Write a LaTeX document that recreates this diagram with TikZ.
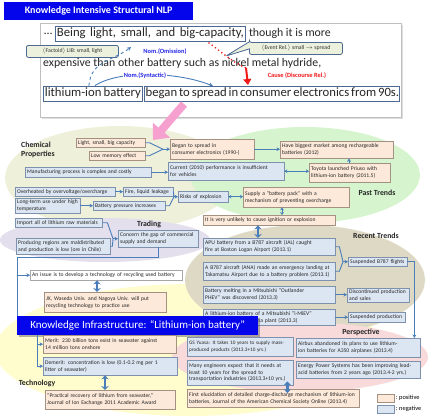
\documentclass[tikz,border=0pt]{standalone}
\usepackage{fontspec}
\setmainfont{Carlito}
\usetikzlibrary{arrows.meta,positioning,calc,shapes.callouts,shadows}
\definecolor{nlpblue}    {RGB}{  5,  5,235}
\definecolor{posfill}    {RGB}{253,233,217}
\definecolor{posline}    {RGB}{165,145,130}
\definecolor{negfill}    {RGB}{220,230,242}
\definecolor{negline}    {RGB}{125,145,172}
\definecolor{connblue}   {RGB}{ 74,126,187}
\definecolor{phrline}    {RGB}{ 75,105,145}
\definecolor{calloutfill}{RGB}{236,241,222}
\definecolor{nomblue}    {RGB}{ 35, 35,230}
\definecolor{causered}   {RGB}{240, 25, 25}
\definecolor{arrowpink}  {RGB}{246,160,208}
\definecolor{blobolive}  {RGB}{238,240,218}
\definecolor{blobgreen}  {RGB}{214,245,206}
\definecolor{bloblav}    {RGB}{228,223,236}
\definecolor{blobtan}    {RGB}{221,217,196}
\definecolor{blobyellow} {RGB}{255,253,206}
\definecolor{blobpink}   {RGB}{248,218,219}
\tikzset{
  bx/.style={draw,anchor=north west,inner xsep=2pt,inner ysep=1pt,
             align=left,font=\fontsize{5.6}{6.7}\selectfont,text=black!85},
  posbox/.style={bx,draw=posline,fill=posfill},
  negbox/.style={bx,draw=negline,fill=negfill},
  whtbox/.style={bx,draw=gray!70,fill=white},
  ttl/.style={font=\fontsize{7.8}{8.8}\selectfont\bfseries,text=black!85,
              align=left,inner sep=0pt},
  banner/.style={fill=nlpblue,text=white,anchor=north west,inner sep=0pt},
  sent/.style={font=\fontsize{11.8}{14}\selectfont,inner sep=0pt,anchor=west,
               text=black!85},
  phrase/.style={draw=phrline,line width=0.8pt,inner xsep=1.5pt,inner ysep=0pt,
                 minimum height=15pt,font=\fontsize{12.7}{14}\selectfont,
                 text=black!85},
  factoid/.style={draw=phrline,line width=0.8pt,fill=calloutfill,
                  rounded corners=2pt,anchor=north west,inner sep=0pt,
                  minimum height=12pt,font=\fontsize{5.8}{6.8}\selectfont,
                  text=black!80},
  nomlbl/.style={font=\fontsize{6.4}{7.4}\selectfont\bfseries,text=nomblue,
                 inner sep=1pt},
  nomarr/.style={draw=connblue,line width=0.9pt,
                 -{Stealth[length=4pt,width=4pt]}},
  lnk/.style={draw=connblue,line width=0.9pt},
  arr/.style={lnk,-{Stealth[length=3.5pt,width=3.8pt]}},
  darr/.style={lnk,{Stealth[length=3pt,width=3.8pt]}-{Stealth[length=3pt,width=3.8pt]}},
  bigdarr/.style={lnk,line width=2.4pt,
                  {Stealth[length=4pt,width=7.5pt]}-{Stealth[length=4pt,width=7.5pt]}},
}
\begin{document}
\begin{tikzpicture}[x=1pt,y=-1pt]
  \useasboundingbox (0,0) rectangle (432,416);

  % background areas
  \fill[blobyellow] (190,350) ellipse [x radius=195pt,y radius=66pt];
  \fill[blobtan]    (305,280) ellipse [x radius=120pt,y radius=55pt];
  \fill[blobpink]   (300,357) ellipse [x radius=128pt,y radius=35pt];
  \fill[blobolive]  (120,178) ellipse [x radius=115pt,y radius=52pt];
  \fill[blobgreen]  (305,175) ellipse [x radius=115pt,y radius=48pt];
  \fill[bloblav]    (105,240) ellipse [x radius=105pt,y radius=22pt];

  % structural NLP
  \node[banner,minimum width=189pt,minimum height=18pt,
        font=\fontsize{10}{12}\selectfont\bfseries] (nlp) at (4,2)
        {Knowledge Intensive Structural NLP};
  \node[draw=gray!50,line width=1.2pt,fill=white,anchor=north west,
        minimum width=361pt,minimum height=94pt,
        drop shadow={shadow xshift=1pt,shadow yshift=-1pt,opacity=0.25}]
        (frame) at (40,23) {};

  \node[sent] (dots) at (44,33.5) {\dots};
  \node[phrase,anchor=west] (being) at (55,33.5)
        {\makebox[187pt][s]{Being light, small, and big-capacity,}};
  \node[sent,right=3pt of being] (more) {though it is more};
  \node[sent] (expens) at (43,63) {expensive than other battery such as nickel metal hydride,};
  \node[phrase,anchor=west] (lib) at (43,93.5) {\makebox[96pt][s]{lithium-ion battery}};
  \node[phrase,right=1pt of lib] (spread)
        {\makebox[252pt][s]{began to spread in consumer electronics from 90s.}};

  \node[factoid,minimum width=92pt] (fact) at (26,45)
        {$\langle$Factoid$\rangle$ LIB: small, light};
  \node[factoid,minimum width=93pt,rectangle callout,
        callout absolute pointer={(226,56)}] (event) at (249,42)
        {$\langle$Event Rel.$\rangle$ small $\rightarrow$ spread};

  \node[nomlbl] (omis) at (165,52) {Nom.(Omission)};
  \coordinate (omisend) at (131,47);
  \draw[nomarr,dashed] ($(lib.north)+(-4,0)$) .. controls +(2,-25) and +(-18,14) .. (omisend);
  \coordinate (synend) at (213,86);
  \draw[nomarr] ($(lib.north)+(2,0)$) .. controls +(25,-16) and +(-35,-14) .. (synend);
  \node[nomlbl,fill=white] (synt) at (145,76) {Nom.(Syntactic)};

  \coordinate (causest) at (209,43);
  \coordinate (causemid) at (246,68);
  \coordinate (causeend) at (248,85);
  \draw[causered,line width=1.8pt,line cap=round,dash pattern=on 0pt off 4pt]
        (causest) .. controls +(14,10) and +(-14,-6) .. (causemid);
  \draw[causered,line width=2pt,-{Triangle[length=6pt,width=8pt]}] (causemid) -- (causeend);
  \node[font=\fontsize{6.4}{7.4}\selectfont\bfseries,text=causered] (cause) at (297,76)
        {Cause (Discourse Rel.)};

  \coordinate (pkst) at (184,104);
  \coordinate (pkend) at (153,140);
  \draw[arrowpink,line width=8pt,-{Triangle[length=13pt,width=22pt]}] (pkst) -- (pkend);

  % chemical properties
  \node[ttl,anchor=west] (chemttl) at (21,150) {Chemical\\Properties};
  \node[posbox,text width=65pt,minimum height=9pt] (light) at (76,138) {Light, small, big capacity};
  \node[posbox,text width=52pt,minimum height=9pt] (lowmem) at (89,151) {Low memory effect};
  \node[negbox,text width=122pt,minimum height=10pt] (manuf) at (25,167) {Manufacturing process is complex and costly};
  \node[negbox,text width=96pt,minimum height=9pt] (overheat) at (15,187) {Overheated by overvoltage/overcharge};
  \node[negbox,text width=46pt,minimum height=9pt] (fire) at (123,187) {Fire, liquid leakage};
  \node[negbox,text width=61pt,minimum height=15pt] (longterm) at (15,198) {Long-term use under high\\temperature};
  \node[negbox,text width=68pt,minimum height=9pt] (pressure) at (93,201) {Battery pressure increases};
  \node[negbox,text width=46pt,minimum height=11pt] (risks) at (178,191) {Risks of explosion};

  % past trends
  \node[posbox,text width=80pt,minimum height=20pt] (began) at (170,139) {Began to spread in\\consumer electronics (1990-)};
  \node[negbox,text width=112pt,minimum height=18pt] (current) at (168,162) {Current (2010) performance is insufficient\\for vehicles};
  \node[posbox,text width=109pt,minimum height=17pt] (biggest) at (280,141) {Have biggest market among rechargeable\\batteries (2012)};
  \node[posbox,text width=77pt,minimum height=19pt] (toyota) at (309,163) {Toyota launched Priuso with\\lithium-ion battery (2011.5)};
  \node[posbox,text width=102pt,minimum height=20pt] (supply) at (243,187) {Supply a “battery pack” with a\\mechanism of preventing overcharge};
  \node[posbox,text width=128pt,minimum height=10pt] (unlikely) at (203,215) {It is very unlikely to cause ignition or explosion};
  \node[ttl] (pastttl) at (377,193) {Past Trends};

  % trading
  \node[ttl] (tradttl) at (149,224) {Trading};
  \node[negbox,text width=83pt,minimum height=9pt] (import) at (15,218) {Import all of lithium raw materials};
  \node[negbox,text width=90pt,minimum height=16pt] (producing) at (16,238) {Producing regions are maldistributed\\and production is low (ore in Chile)};
  \node[negbox,text width=76pt,minimum height=17pt] (concern) at (118,230) {Concern the gap of commercial\\supply and demand};

  % recent trends
  \node[ttl] (recttl) at (376,236) {Recent Trends};
  \node[negbox,text width=128pt,minimum height=17pt] (apu) at (203,238) {APU battery from a B787 aircraft (JAL) caught\\fire at Boston Logan Airport (2013.1)};
  \node[negbox,text width=128pt,minimum height=18pt] (ana) at (203,262) {A B787 aircraft (ANA) made an emergency landing at\\Takamatsu Airport due to a battery problem (2013.1)};
  \node[negbox,text width=128pt,minimum height=17pt] (melt) at (203,286) {Battery melting in a Mitsubishi “Outlander\\PHEV” was discovered (2013.3)};
  \node[negbox,text width=128pt,minimum height=16pt] (imiev) at (203,309) {A lithium-ion battery of a Mitsubishi “i-MiEV”\\caught fire at Mizushima plant (2013.3)};
  \node[negbox,text width=55pt,minimum height=9pt] (suspflt) at (348,257) {Suspended B787 flights};
  \node[negbox,text width=58pt,minimum height=14pt] (discont) at (347,288) {Discontinued production\\and sales};
  \node[negbox,text width=53pt,minimum height=10pt] (suspprod) at (348,312) {Suspended production};

  % knowledge infrastructure and technology
  \node[whtbox,text width=148pt,minimum height=10pt] (issue) at (30,270) {An issue is to develop a technology of recycling used battery};
  \node[posbox,text width=118pt,minimum height=20pt] (jx) at (44,292) {JX, Waseda Univ. and Nagoya Univ. will put\\recycling technology to practice use};
  \node[banner,minimum width=241pt,minimum height=19pt,
        font=\fontsize{11}{13}\selectfont,
        drop shadow={shadow xshift=2pt,shadow yshift=-2pt,fill=black!60}]
        (ki) at (17,316) {Knowledge Infrastructure: “Lithium-ion battery”};
  \node[posbox,text width=129pt,minimum height=18pt] (merit) at (43,335) {Merit: 230 billion tons exist in seawater against\\14 million tons onshore};
  \node[negbox,text width=130pt,minimum height=18pt] (demerit) at (43,357) {Demerit: concentration is low (0.1-0.2 mg per 1\\litter of seawater)};
  \node[ttl] (techttl) at (37,383) {Technology};
  \node[posbox,text width=126pt,minimum height=19pt] (practical) at (45,390) {“Practical recovery of lithium from seawater,”\\Journal of Ion Exchange 2011 Academic Award};

  % perspective
  \node[ttl] (perspttl) at (361,332) {Perspective};
  \node[negbox,text width=102pt,minimum height=19pt,font=\fontsize{5.2}{6.6}\selectfont] (gsyuasa) at (187,337) {GS Yuasa: It takes 10 years to supply mass-\\produced products (2013.3+10 yrs.)};
  \node[negbox,text width=102pt,minimum height=25pt] (engineers) at (187,360) {Many engineers expect that it needs at\\least 10 years for the spread to\\transportation industries (2013.3+10 yrs.)};
  \node[negbox,text width=120pt,minimum height=19pt] (airbus) at (296,338) {Airbus abandoned its plans to use lithium-\\ion batteries for A350 airplanes (2013.4)};
  \node[negbox,text width=120pt,minimum height=17pt] (eps) at (296,361) {Energy Power Systems has been improving lead-\\acid batteries from 2 years ago (2013.4-2 yrs.)};
  \node[posbox,text width=168pt,minimum height=18pt] (firstel) at (187,389) {First elucidation of detailed charge-discharge mechanism of lithium-ion\\batteries, Journal of the American Chemical Society Online (2013.4)};

  % legend
  \node[posbox,minimum width=17pt,minimum height=8pt,inner sep=0pt] (legpos) at (377,394) {};
  \node[right=1pt of legpos,font=\fontsize{6.4}{7.4}\selectfont,inner sep=0pt] (legpostxt) {: positive};
  \node[negbox,minimum width=17pt,minimum height=8pt,inner sep=0pt] (legneg) at (377,405) {};
  \node[right=1pt of legneg,font=\fontsize{6.4}{7.4}\selectfont,inner sep=0pt] (legnegtxt) {: negative};

  % connectors
  \coordinate (m1) at ($(began.west)+(-7,0)$);
  \draw[lnk] (light.east) -- ++(4,0) -- (m1);
  \draw[lnk] (lowmem.east) -- ++(4,0) -- (m1);
  \draw[arr] (m1) -- (began.west);
  \draw[arr] (manuf.east) -- (manuf.east -| current.west);
  \draw[arr] (overheat.east) -- (overheat.east -| fire.west);
  \draw[arr] (longterm.east) -- (longterm.east -| pressure.west);
  \coordinate (m2) at ($(risks.west)+(-4,0)$);
  \draw[lnk] (fire.east) -- (m2);
  \draw[lnk] (pressure.east) -- ++(4,0) -- (m2);
  \draw[arr] (m2) -- (risks.west);
  \draw[darr] (risks.east) -- (risks.east -| supply.west);
  \coordinate (sa) at ($(supply.south west)+(39,0)$);
  \draw[darr] (sa) -- (sa |- unlikely.north);
  \draw[arr] (began.east) -- (began.east -| biggest.west);
  \draw[darr] (current.east) -- (current.east -| toyota.west);
  \coordinate (ta) at ($(toyota.north west)+(40,0)$);
  \draw[arr] (ta) -- (ta |- biggest.south);

  \coordinate (m3) at ($(concern.west)+(-5,0)$);
  \draw[lnk] (import.east) -- ++(5,0) -- (m3);
  \draw[lnk] (producing.east) -- ++(2,0) -- (m3);
  \draw[arr] (m3) -- (concern.west);
  \coordinate (cornerL) at (17,257);
  \draw[lnk] (concern.south) |- (cornerL) -- (ki.north west);
  \draw[arr] (cornerL |- issue.west) -- (issue.west);
  \coordinate (ja) at ($(issue.south west)+(67,0)$);
  \draw[bigdarr] (ja) -- (ja |- jx.north);

  \coordinate (ua) at ($(unlikely.south west)+(55,0)$);
  \draw[bigdarr] (ua) -- (ua |- apu.north);
  \coordinate (m4) at ($(suspflt.west)+(-5,0)$);
  \draw[lnk] (apu.east) -- ++(4,0) -- (m4);
  \draw[lnk] (ana.east) -- ++(4,0) -- (m4);
  \draw[arr] (m4) -- (suspflt.west);
  \draw[arr] (melt.east) -- (melt.east -| discont.west);
  \draw[arr] (imiev.east) -- (imiev.east -| suspprod.west);
  \draw[arr] (suspflt.east) -| ($(airbus.north east)+(-6,0)$);

  \coordinate (kiL) at ($(ki.south west)+(20,0)$);
  \draw[arr] (kiL) |- (merit.west);
  \draw[arr] (kiL) |- (demerit.west);
  \coordinate (da) at ($(demerit.south west)+(62,0)$);
  \draw[bigdarr] (da) -- (da |- practical.north);
  \coordinate (ea) at ($(engineers.south east)+(-6,-4)$);
  \draw[bigdarr] (ea) -- ($(ea |- firstel.north)+(0,4)$);
\end{tikzpicture}
\end{document}
